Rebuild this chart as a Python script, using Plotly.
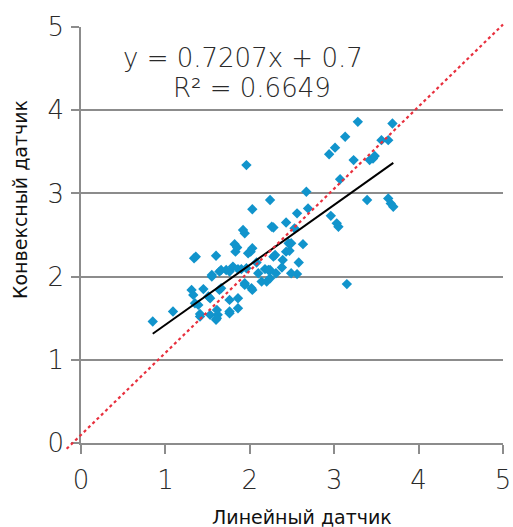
import plotly.graph_objects as go

# ---- data ----
linear_sensor = [0.85, 1.09, 1.31, 1.33, 1.34, 1.36, 1.35, 1.39, 1.41, 1.41, 1.45, 1.51, 1.53, 1.53,
                 1.55, 1.55, 1.60, 1.60, 1.61, 1.62, 1.61, 1.64, 1.64, 1.66, 1.66, 1.72, 1.76, 1.76,
                 1.76, 1.76, 1.80, 1.82, 1.83, 1.86, 1.86, 1.86, 1.85, 1.90, 1.92, 1.94, 1.94, 1.94,
                 1.96, 1.96, 1.98, 2.01, 2.03, 2.03, 2.02, 2.03, 2.08, 2.10, 2.14, 2.18, 2.20, 2.22,
                 2.24, 2.24, 2.24, 2.26, 2.28, 2.28, 2.30, 2.31, 2.38, 2.39, 2.43, 2.43, 2.46, 2.47,
                 2.49, 2.49, 2.53, 2.56, 2.56, 2.58, 2.63, 2.67, 2.69, 2.94, 2.96, 3.01, 3.03, 3.05,
                 3.07, 3.13, 3.15, 3.23, 3.28, 3.39, 3.42, 3.46, 3.48, 3.56, 3.64, 3.64, 3.67, 3.69,
                 3.70]
convex_sensor = [1.46, 1.58, 1.84, 1.78, 2.22, 2.24, 1.68, 1.66, 1.55, 1.52, 1.85, 1.76, 1.74, 1.54,
                 2.00, 2.02, 2.25, 1.48, 1.60, 1.54, 1.50, 2.06, 1.84, 1.86, 2.08, 2.08, 2.06, 1.72,
                 1.58, 1.56, 2.12, 2.39, 2.30, 2.09, 1.74, 1.62, 2.35, 2.09, 2.56, 2.52, 1.92, 1.90,
                 3.34, 2.10, 2.28, 2.30, 2.34, 2.81, 1.86, 1.84, 2.17, 2.04, 1.94, 2.09, 1.94, 2.08,
                 2.08, 1.98, 2.92, 2.60, 2.24, 2.59, 2.26, 2.04, 2.11, 2.20, 2.30, 2.65, 2.40, 2.31,
                 2.40, 2.04, 2.58, 2.76, 2.03, 2.17, 2.39, 3.02, 2.82, 3.47, 2.73, 3.55, 2.64, 2.60,
                 3.17, 3.68, 1.91, 3.40, 3.86, 2.92, 3.40, 3.42, 3.45, 3.64, 3.64, 2.94, 2.88, 3.84,
                 2.84]
slope = 0.7207
intercept = 0.7
r_squared = 0.6649
identity_x = [-0.17, 5.0]
identity_y = [-0.07, 5.03]
axis_ticks = [0, 1, 2, 3, 4, 5]
x_title = "Линейный датчик"
y_title = "Конвексный датчик"

# ---- layout geometry (pixels) ----
W, H = 513, 527
L, R, T, B = 50, 4, 12, 62
px_x0, px_x5 = 81, 503      # pixel of x=0 and x=5
px_y0, px_y5 = 443, 27      # pixel of y=0 and y=5
pw, ph = W - L - R, H - T - B

def fx(px):
    return (px - L) / pw

def fy(py):
    return (H - B - py) / ph

ux = (px_x5 - px_x0) / 5.0
uy = (px_y0 - px_y5) / 5.0

# overlay axes (extended) for the identity line that runs past the axes
ext_px_left, ext_px_right = L, W - R
ext_py_top, ext_py_bottom = T, H - B
x2_range = [(ext_px_left - px_x0) / ux, (ext_px_right - px_x0) / ux]
y2_range = [(px_y0 - ext_py_bottom) / uy, (px_y0 - ext_py_top) / uy]

font_family = "DejaVu Sans"
txt_color = "#2a2a2a"
grey = "#8c8c8c"

fig = go.Figure()

fig.add_trace(go.Scatter(
    x=linear_sensor, y=convex_sensor, mode="markers",
    marker=dict(symbol="diamond", size=8, color="#1194cc", line=dict(width=0)),
    xaxis="x", yaxis="y", showlegend=False, hoverinfo="skip", cliponaxis=False))

xs_fit = [min(linear_sensor), max(linear_sensor)]
fig.add_trace(go.Scatter(
    x=xs_fit, y=[slope * v + intercept for v in xs_fit], mode="lines",
    line=dict(color="black", width=2), xaxis="x", yaxis="y", showlegend=False, hoverinfo="skip"))

fig.add_trace(go.Scatter(
    x=identity_x, y=identity_y, mode="lines",
    line=dict(color="#e8303e", width=2.2, dash="dot"),
    xaxis="x2", yaxis="y2", showlegend=False, hoverinfo="skip"))

tickfont = dict(family=font_family, size=26, color=txt_color, weight=300)

fig.update_layout(
    width=W, height=H,
    margin=dict(l=L, r=R, t=T, b=B, autoexpand=False),
    paper_bgcolor="white", plot_bgcolor="rgba(0,0,0,0)",
    xaxis=dict(domain=[fx(px_x0), fx(px_x5)], range=[0, 5], anchor="y", automargin=False,
               tickvals=axis_ticks, ticktext=[str(t) for t in axis_ticks],
               showline=True, linecolor=grey, linewidth=1.5,
               ticks="outside", ticklen=9, tickwidth=1.5, tickcolor=grey,
               showgrid=False, zeroline=False, tickfont=tickfont, ticklabelstandoff=4),
    yaxis=dict(domain=[fy(px_y0), fy(px_y5)], range=[0, 5], anchor="x", automargin=False,
               tickvals=axis_ticks, ticktext=[str(t) for t in axis_ticks],
               showline=True, linecolor=grey, linewidth=1.5,
               ticks="outside", ticklen=8, tickwidth=1.5, tickcolor=grey,
               showgrid=True, gridcolor=grey, gridwidth=1.5,
               zeroline=False, tickfont=tickfont, ticklabelstandoff=2),
    xaxis2=dict(domain=[0, 1], range=x2_range, anchor="y2", visible=False, fixedrange=True,
                automargin=False),
    yaxis2=dict(domain=[0, 1], range=y2_range, anchor="x2", visible=False, fixedrange=True,
                automargin=False),
    annotations=[
        dict(text=f"y = {slope}x + {intercept}", x=fx(243), y=fy(58), xref="paper", yref="paper",
             xanchor="center", yanchor="middle", showarrow=False,
             font=dict(family=font_family, size=26, color=txt_color, weight=300)),
        dict(text=f"R² = {r_squared}", x=fx(252), y=fy(88), xref="paper", yref="paper",
             xanchor="center", yanchor="middle", showarrow=False,
             font=dict(family=font_family, size=26, color=txt_color, weight=300)),
        dict(text=x_title, x=fx(302), y=fy(517), xref="paper", yref="paper",
             xanchor="center", yanchor="middle", showarrow=False,
             font=dict(family=font_family, size=19, color="#111")),
        dict(text=y_title, x=fx(20), y=fy(200), xref="paper", yref="paper", textangle=-90,
             xanchor="center", yanchor="middle", showarrow=False,
             font=dict(family=font_family, size=19, color="#111")),
    ],
)

fig.write_html("out.html")
